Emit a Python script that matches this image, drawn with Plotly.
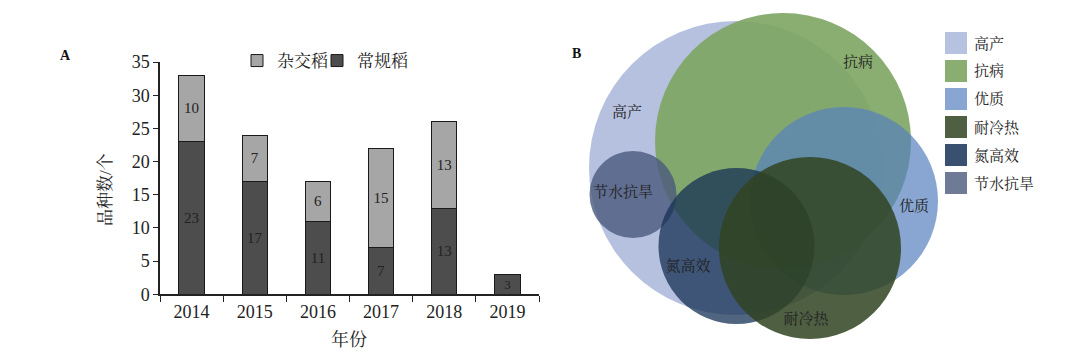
import plotly.graph_objects as go

# ---- Panel A data ----
years = ["2014", "2015", "2016", "2017", "2018", "2019"]
inbred = [23, 17, 11, 7, 13, 3]      # 常规稻
hybrid = [10, 7, 6, 15, 13, 0]       # 杂交稻
y_ticks = [0, 5, 10, 15, 20, 25, 30, 35]

# ---- Panel B data (Venn circles, pixel-like units) ----
venn_names = ["高产", "抗病", "优质", "耐冷热", "氮高效", "节水抗旱"]
venn_cx = [736, 783, 844, 810, 736.5, 633]
venn_cy = [168, 141, 201, 248, 246, 194.5]
venn_r = [147, 128, 94, 91, 78, 43.5]
venn_label_x = [627, 858, 914, 806, 688, 623]
venn_label_y = [113, 63, 207, 320, 267, 193]
venn_draw_order = [0, 1, 2, 5, 4, 3]

venn_fill = ["rgb(164,176,215)", "rgb(125,165,98)", "rgb(85,128,189)",
             "rgb(48,67,33)", "rgb(22,49,84)", "rgb(75,89,125)"]
venn_opacity = [0.8, 0.9, 0.7, 0.85, 0.75, 0.8]
venn_legend_col = ["#b6c2e0", "#8aae72", "#88a6d1", "#4f5f42", "#3a5070", "#6f7a97"]

FONT = "Liberation Serif, 'Noto Serif CJK SC', 'Noto Sans CJK SC', serif"

fig = go.Figure()
fig.add_trace(go.Bar(
    x=years, y=inbred, name="常规稻", legend="legend2",
    marker=dict(color="#4d4d4d", line=dict(color="#1a1a1a", width=1)),
    text=[str(v) for v in inbred], textposition="inside", insidetextanchor="middle",
    textfont=dict(color="#222222", size=15, family=FONT), textangle=0,
))
fig.add_trace(go.Bar(
    x=years, y=hybrid, name="杂交稻", legend="legend",
    marker=dict(color="#a6a6a6", line=dict(color="#1a1a1a", width=1)),
    text=[str(v) if v else "" for v in hybrid], textposition="inside", insidetextanchor="middle",
    textfont=dict(color="#222222", size=15, family=FONT), textangle=0,
))

# Venn labels as text trace on second axes
fig.add_trace(go.Scatter(
    x=venn_label_x, y=venn_label_y, mode="text", text=venn_names,
    textfont=dict(size=15, color="#222222", family=FONT),
    xaxis="x2", yaxis="y2", showlegend=False, hoverinfo="skip",
))

shapes = []
for i in venn_draw_order:
    cx, cy, r = venn_cx[i], venn_cy[i], venn_r[i]
    shapes.append(dict(type="circle", xref="x2", yref="y2",
                       x0=cx - r, x1=cx + r, y0=cy - r, y1=cy + r,
                       fillcolor=venn_fill[i], opacity=venn_opacity[i],
                       line=dict(width=0), layer="below"))

# Venn legend (squares + labels)
annotations = []
for i, (nm, col) in enumerate(zip(venn_names, venn_legend_col)):
    yc = 43 + 28 * i
    shapes.append(dict(type="rect", xref="x2", yref="y2",
                       x0=945, x1=967, y0=yc - 11, y1=yc + 11,
                       fillcolor=col, line=dict(width=0)))
    annotations.append(dict(x=972, y=yc, xref="x2", yref="y2", text=nm,
                            showarrow=False, xanchor="left", yanchor="middle",
                            font=dict(size=15, color="#222222", family=FONT)))

annotations.append(dict(x=65 / 1079, y=1 - 55 / 352, xref="paper", yref="paper", text="<b>A</b>",
                        showarrow=False, xanchor="center", yanchor="middle",
                        font=dict(size=14, color="#111111", family=FONT)))
annotations.append(dict(x=576 / 1079, y=1 - 53 / 352, xref="paper", yref="paper", text="<b>B</b>",
                        showarrow=False, xanchor="center", yanchor="middle",
                        font=dict(size=14, color="#111111", family=FONT)))
# axis titles
annotations.append(dict(x=105 / 1079, y=1 - 190 / 352, xref="paper", yref="paper", text="品种数/个",
                        textangle=-90, showarrow=False, xanchor="center", yanchor="middle",
                        font=dict(size=17, color="#222222", family=FONT)))
annotations.append(dict(x=349 / 1079, y=1 - 339 / 352, xref="paper", yref="paper", text="年份",
                        showarrow=False, xanchor="center", yanchor="middle",
                        font=dict(size=18, color="#222222", family=FONT)))

legend_common = dict(orientation="h", xanchor="left", yanchor="middle",
                     font=dict(size=17, family=FONT, color="#222222"),
                     bgcolor="rgba(0,0,0,0)")

fig.update_layout(
    width=1079, height=352,
    margin=dict(l=0, r=0, t=0, b=0),
    paper_bgcolor="white", plot_bgcolor="rgba(0,0,0,0)",
    barmode="stack", bargap=0.6,
    font=dict(family=FONT, color="#222222"),
    showlegend=True,
    legend=dict(x=237 / 1079, y=1 - 61 / 352, **legend_common),
    legend2=dict(x=317 / 1079, y=1 - 61 / 352, **legend_common),
    xaxis=dict(domain=[160 / 1079, 539 / 1079], type="category", automargin=False,
               showline=True, linecolor="#222222", linewidth=1.5,
               ticks="outside", ticklen=6, tickcolor="#222222", tickson="boundaries",
               tickfont=dict(size=18, family=FONT, color="#222222"),
               showgrid=False, zeroline=False),
    yaxis=dict(domain=[(352 - 294.3) / 352, (352 - 62) / 352], range=[0, 35], automargin=False,
               tickvals=y_ticks, showline=True, linecolor="#222222", linewidth=1.5,
               ticks="outside", ticklen=5, tickcolor="#222222",
               tickfont=dict(size=18, family=FONT, color="#222222"),
               showgrid=False, zeroline=False),
    xaxis2=dict(domain=[0.52, 1], range=[0.52 * 1079, 1079], visible=False, fixedrange=True,
                anchor="y2", automargin=False),
    yaxis2=dict(domain=[0, 1], range=[352, 0], visible=False, anchor="x2", fixedrange=True,
                automargin=False),
    shapes=shapes,
    annotations=annotations,
)

fig.write_html("out.html")
